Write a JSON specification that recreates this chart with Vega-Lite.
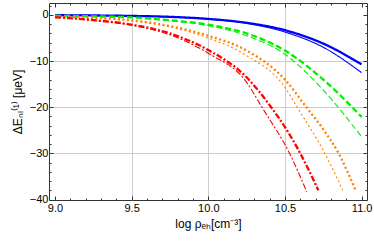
{
  "$schema": "https://vega.github.io/schema/vega-lite/v6.json",
  "width": 318,
  "height": 197,
  "autosize": {"type": "none"},
  "padding": {"left": 49, "top": 3, "right": 7, "bottom": 45},
  "config": {
    "view": {"stroke": "#333333", "strokeWidth": 1},
    "font": "Liberation Sans",
    "axis": {"labelFont": "Liberation Sans", "titleFont": "Liberation Sans", "labelColor": "#000000", "titleColor": "#000000", "labelFontSize": 11, "titleFontSize": 12, "titleFontWeight": "normal", "domain": false, "tickColor": "#333333", "gridColor": "#cccccc", "gridWidth": 1}
  },
  "data": {"values": [
    {"x": 9.0, "y": -0.05, "fam": "b", "v": "1"}, {"x": 9.25, "y": -0.1, "fam": "b", "v": "1"}, {"x": 9.5, "y": -0.2, "fam": "b", "v": "1"}, {"x": 9.75, "y": -0.4, "fam": "b", "v": "1"}, {"x": 10.0, "y": -0.85, "fam": "b", "v": "1"}, {"x": 10.25, "y": -1.7, "fam": "b", "v": "1"}, {"x": 10.5, "y": -3.3, "fam": "b", "v": "1"}, {"x": 10.75, "y": -6.2, "fam": "b", "v": "1"}, {"x": 11.0, "y": -10.7, "fam": "b", "v": "1"},
    {"x": 9.0, "y": -0.05, "fam": "b", "v": "2"}, {"x": 9.25, "y": -0.1, "fam": "b", "v": "2"}, {"x": 9.5, "y": -0.2, "fam": "b", "v": "2"}, {"x": 9.75, "y": -0.42, "fam": "b", "v": "2"}, {"x": 10.0, "y": -0.9, "fam": "b", "v": "2"}, {"x": 10.25, "y": -1.8, "fam": "b", "v": "2"}, {"x": 10.5, "y": -3.7, "fam": "b", "v": "2"}, {"x": 10.75, "y": -7.0, "fam": "b", "v": "2"}, {"x": 11.0, "y": -12.5, "fam": "b", "v": "2"},
    {"x": 9.0, "y": -0.15, "fam": "g", "v": "1"}, {"x": 9.25, "y": -0.3, "fam": "g", "v": "1"}, {"x": 9.5, "y": -0.5, "fam": "g", "v": "1"}, {"x": 9.75, "y": -1.15, "fam": "g", "v": "1"}, {"x": 10.0, "y": -2.1, "fam": "g", "v": "1"}, {"x": 10.25, "y": -4.0, "fam": "g", "v": "1"}, {"x": 10.5, "y": -7.7, "fam": "g", "v": "1"}, {"x": 10.75, "y": -14.0, "fam": "g", "v": "1"}, {"x": 11.0, "y": -22.1, "fam": "g", "v": "1"},
    {"x": 9.0, "y": -0.15, "fam": "g", "v": "2"}, {"x": 9.25, "y": -0.3, "fam": "g", "v": "2"}, {"x": 9.5, "y": -0.55, "fam": "g", "v": "2"}, {"x": 9.75, "y": -1.25, "fam": "g", "v": "2"}, {"x": 10.0, "y": -2.3, "fam": "g", "v": "2"}, {"x": 10.25, "y": -4.5, "fam": "g", "v": "2"}, {"x": 10.5, "y": -8.5, "fam": "g", "v": "2"}, {"x": 10.75, "y": -16.3, "fam": "g", "v": "2"}, {"x": 11.0, "y": -26.4, "fam": "g", "v": "2"},
    {"x": 9.0, "y": -0.35, "fam": "o", "v": "1"}, {"x": 9.25, "y": -0.6, "fam": "o", "v": "1"}, {"x": 9.5, "y": -1.15, "fam": "o", "v": "1"}, {"x": 9.75, "y": -2.4, "fam": "o", "v": "1"}, {"x": 10.0, "y": -4.5, "fam": "o", "v": "1"}, {"x": 10.25, "y": -7.7, "fam": "o", "v": "1"}, {"x": 10.5, "y": -14.0, "fam": "o", "v": "1"}, {"x": 10.64, "y": -20.0, "fam": "o", "v": "1"}, {"x": 10.75, "y": -24.8, "fam": "o", "v": "1"}, {"x": 10.85, "y": -30.0, "fam": "o", "v": "1"}, {"x": 10.96, "y": -38.0, "fam": "o", "v": "1"},
    {"x": 9.0, "y": -0.35, "fam": "o", "v": "2"}, {"x": 9.25, "y": -0.65, "fam": "o", "v": "2"}, {"x": 9.5, "y": -1.25, "fam": "o", "v": "2"}, {"x": 9.75, "y": -2.6, "fam": "o", "v": "2"}, {"x": 10.0, "y": -5.0, "fam": "o", "v": "2"}, {"x": 10.25, "y": -8.8, "fam": "o", "v": "2"}, {"x": 10.5, "y": -15.7, "fam": "o", "v": "2"}, {"x": 10.58, "y": -20.0, "fam": "o", "v": "2"}, {"x": 10.76, "y": -30.0, "fam": "o", "v": "2"}, {"x": 10.877, "y": -38.0, "fam": "o", "v": "2"},
    {"x": 9.0, "y": -0.5, "fam": "r", "v": "1"}, {"x": 9.25, "y": -1.1, "fam": "r", "v": "1"}, {"x": 9.5, "y": -2.1, "fam": "r", "v": "1"}, {"x": 9.75, "y": -4.0, "fam": "r", "v": "1"}, {"x": 10.0, "y": -7.6, "fam": "r", "v": "1"}, {"x": 10.25, "y": -13.5, "fam": "r", "v": "1"}, {"x": 10.41, "y": -20.0, "fam": "r", "v": "1"}, {"x": 10.5, "y": -24.3, "fam": "r", "v": "1"}, {"x": 10.6, "y": -30.0, "fam": "r", "v": "1"}, {"x": 10.718, "y": -38.0, "fam": "r", "v": "1"},
    {"x": 9.0, "y": -0.5, "fam": "r", "v": "2"}, {"x": 9.25, "y": -1.15, "fam": "r", "v": "2"}, {"x": 9.5, "y": -2.2, "fam": "r", "v": "2"}, {"x": 9.75, "y": -4.3, "fam": "r", "v": "2"}, {"x": 10.0, "y": -8.3, "fam": "r", "v": "2"}, {"x": 10.25, "y": -14.6, "fam": "r", "v": "2"}, {"x": 10.35, "y": -20.0, "fam": "r", "v": "2"}, {"x": 10.53, "y": -30.0, "fam": "r", "v": "2"}, {"x": 10.642, "y": -38.3, "fam": "r", "v": "2"}
  ]},
  "resolve": {"axis": {"x": "independent", "y": "independent"}},
  "layer": [
    {
      "mark": {"type": "line", "interpolate": "monotone", "clip": true},
      "encoding": {
        "x": {"field": "x", "type": "quantitative",
          "scale": {"domain": [8.961, 11.035], "nice": false, "zero": false},
          "axis": {"orient": "bottom", "title": "log ρₑₕ[cm⁻³]", "titlePadding": 5,
            "values": [9.0, 9.1, 9.2, 9.3, 9.4, 9.5, 9.6, 9.7, 9.8, 9.9, 10.0, 10.1, 10.2, 10.3, 10.4, 10.5, 10.6, 10.7, 10.8, 10.9, 11.0],
            "labelExpr": "abs(datum.value*2 - round(datum.value*2)) < 0.001 ? format(datum.value, '.1f') : ''",
            "tickSize": {"condition": {"test": "abs(datum.value*2 - round(datum.value*2)) < 0.001", "value": -4}, "value": -2},
            "labelPadding": 6,
            "gridOpacity": {"condition": {"test": "abs(datum.value*2 - round(datum.value*2)) < 0.001 && datum.value > 9.2 && datum.value < 10.8", "value": 1}, "value": 0}
          }},
        "y": {"field": "y", "type": "quantitative",
          "scale": {"domain": [-40.1, 2.6], "nice": false, "zero": false},
          "axis": {"orient": "left", "title": "ΔEₙₗ⁽¹⁾ [μeV]", "titlePadding": 5,
            "values": [-40, -38, -36, -34, -32, -30, -28, -26, -24, -22, -20, -18, -16, -14, -12, -10, -8, -6, -4, -2, 0, 2],
            "labelExpr": "datum.value % 10 == 0 ? format(datum.value, 'd') : ''",
            "tickSize": {"condition": {"test": "datum.value % 10 == 0", "value": -4}, "value": -2},
            "labelPadding": 5,
            "gridOpacity": {"condition": {"test": "datum.value % 10 == 0 && datum.value < 0 && datum.value > -40", "value": 1}, "value": 0}
          }},
        "color": {"field": "fam", "type": "nominal", "legend": null,
          "scale": {"domain": ["b", "g", "o", "r"], "range": ["#0000ff", "#00ee00", "#ff8000", "#ff0000"]}},
        "strokeDash": {"field": "fam", "type": "nominal", "legend": null,
          "scale": {"domain": ["b", "g", "o", "r"], "range": [[1, 0], [6, 3], [2, 2.5], [6, 2, 2, 2]]}},
        "strokeWidth": {"field": "v", "type": "nominal", "legend": null,
          "scale": {"domain": ["1", "2"], "range": [2.3, 1.1]}},
        "detail": {"field": "v", "type": "nominal"}
      }
    },
    {
      "mark": {"type": "line", "opacity": 0},
      "encoding": {
        "x": {"field": "x", "type": "quantitative",
          "axis": {"orient": "top", "title": null, "labels": false, "grid": false,
            "values": [9.0, 9.1, 9.2, 9.3, 9.4, 9.5, 9.6, 9.7, 9.8, 9.9, 10.0, 10.1, 10.2, 10.3, 10.4, 10.5, 10.6, 10.7, 10.8, 10.9, 11.0],
            "tickSize": {"condition": {"test": "abs(datum.value*2 - round(datum.value*2)) < 0.001", "value": -4}, "value": -2}}},
        "y": {"field": "y", "type": "quantitative",
          "axis": {"orient": "right", "title": null, "labels": false, "grid": false,
            "values": [-40, -38, -36, -34, -32, -30, -28, -26, -24, -22, -20, -18, -16, -14, -12, -10, -8, -6, -4, -2, 0, 2],
            "tickSize": {"condition": {"test": "datum.value % 10 == 0", "value": -4}, "value": -2}}},
        "detail": {"field": "fam", "type": "nominal"}
      }
    }
  ]
}
